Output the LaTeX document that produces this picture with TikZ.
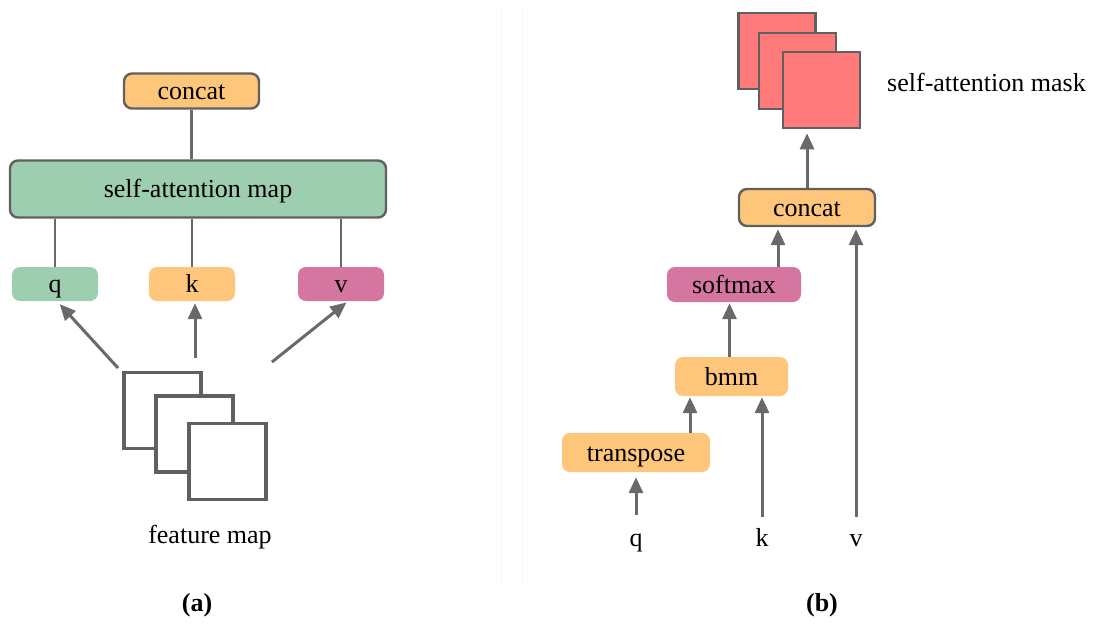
\documentclass[tikz,border=0pt]{standalone}
\usepackage{fontspec}
\setmainfont{Liberation Serif}
\usetikzlibrary{arrows.meta}

\definecolor{boxorange}{RGB}{254,198,122}
\definecolor{boxgreen}{RGB}{158,206,176}
\definecolor{boxpink}{RGB}{213,118,160}
\definecolor{maskred}{RGB}{255,122,122}
\definecolor{edgegray}{RGB}{96,96,96}
\definecolor{linegray}{RGB}{105,105,105}
\definecolor{faintline}{RGB}{246,251,249}

\tikzset{
  every node/.style={font=\fontsize{26}{30}\selectfont, inner sep=0pt,
                     text height=17pt, text depth=0pt},
  opbox/.style={rectangle, rounded corners=8pt, minimum width=#1},
  outlined/.style={draw=edgegray, line width=2.4pt},
  fmsquare/.style={rectangle, draw=edgegray, line width=3.4pt, fill=white,
                   minimum width=77pt, minimum height=76pt},
  masksquare/.style={rectangle, draw=edgegray, line width=2.6pt, fill=maskred,
                     minimum width=77pt, minimum height=76pt},
  link/.style={draw=linegray, line width=2.5pt},
  arr/.style={draw=linegray, line width=3pt,
              -{Triangle[width=14pt,length=16pt]}},
  caption/.style={font=\fontsize{26}{30}\selectfont\bfseries}
}

\begin{document}
\begin{tikzpicture}[x=1pt,y=-1pt]
  \useasboundingbox (0,0) rectangle (1097,633);
  \fill[white] (0,0) rectangle (1097,633);

  % faint divider between the two panels
  \draw[faintline, line width=1pt] (501,5) -- (501,585);
  \draw[faintline, line width=1pt] (522,5) -- (522,585);

  % ---------- (a) ----------
  \node[opbox=135pt, outlined, fill=boxorange, minimum height=35pt] (concatA) at (191.5,91) {concat};
  \node[opbox=376pt, outlined, fill=boxgreen, minimum height=57pt] (sam) at (198,189) {self-attention map};
  \node[opbox=86pt, fill=boxgreen, minimum height=34pt] (qA) at (55,284) {q};
  \node[opbox=86pt, fill=boxorange, minimum height=34pt] (kA) at (192,284) {k};
  \node[opbox=86pt, fill=boxpink, minimum height=34pt] (vA) at (341,284) {v};

  \draw[link] (concatA.south) -- (sam.north -| concatA.south);
  \draw[link] (sam.south -| qA.north) -- (qA.north);
  \draw[link] (sam.south -| kA.north) -- (kA.north);
  \draw[link] (sam.south -| vA.north) -- (vA.north);

  \node[fmsquare] (fm1) at (162.5,410.5) {};
  \node[fmsquare] (fm2) at (194.5,434) {};
  \node[fmsquare] (fm3) at (227.5,461.5) {};
  \node (fmlabel) at (210,535) {feature map};

  \coordinate (fmq) at (118,368);
  \coordinate (fmk) at (195,358);
  \coordinate (fmv) at (272,362);
  \draw[arr, shorten >=4pt] (fmq) -- ([xshift=2pt]qA.south);
  \draw[arr, shorten >=2pt] (fmk) -- (fmk |- kA.south);
  \draw[arr, shorten >=2pt] (fmv) -- ([xshift=7pt]vA.south);

  \node[caption] (capA) at (197,603) {(a)};

  % ---------- (b) ----------
  \node[masksquare] (m1) at (777,51) {};
  \node[masksquare] (m2) at (797.5,71) {};
  \node[masksquare] (m3) at (821.5,90) {};
  \node[anchor=west] (masklabel) at (887,82.5) {self-attention mask};

  \node[opbox=136pt, outlined, fill=boxorange, minimum height=37pt] (concatB) at (807,207.5) {concat};
  \node[opbox=134pt, fill=boxpink, minimum height=35pt] (softmax) at (734,284.5) {softmax};
  \node[opbox=113pt, fill=boxorange, minimum height=39pt] (bmm) at (731.5,376.5) {bmm};
  \node[opbox=148pt, fill=boxorange, minimum height=39pt] (transpose) at (636,452.5) {transpose};

  \node (qB) at (636,538) {q};
  \node (kB) at (762,538) {k};
  \node (vB) at (856,538) {v};
  \coordinate (qtail) at (636,515);
  \coordinate (ktail) at (762,517);
  \coordinate (vtail) at (856,517);

  \draw[arr, shorten >=4pt] (concatB.north) -- (concatB.north |- m3.south);
  \draw[arr, shorten >=2pt] ([xshift=44pt]softmax.north) -- ([xshift=44pt]softmax.north |- concatB.south);
  \draw[arr, shorten >=2pt] (vtail) -- (vtail |- concatB.south);
  \draw[arr, shorten >=1pt] ([xshift=-2pt]bmm.north) -- ([xshift=-2pt]bmm.north |- softmax.south);
  \draw[arr, shorten >=1pt] (transpose.north -| 690,0) -- (bmm.south -| 690,0);
  \draw[arr, shorten >=1pt] (ktail) -- (ktail |- bmm.south);
  \draw[arr, shorten >=5pt] (qtail) -- (transpose.south);

  \node[caption] (capB) at (822,603) {(b)};
\end{tikzpicture}
\end{document}
